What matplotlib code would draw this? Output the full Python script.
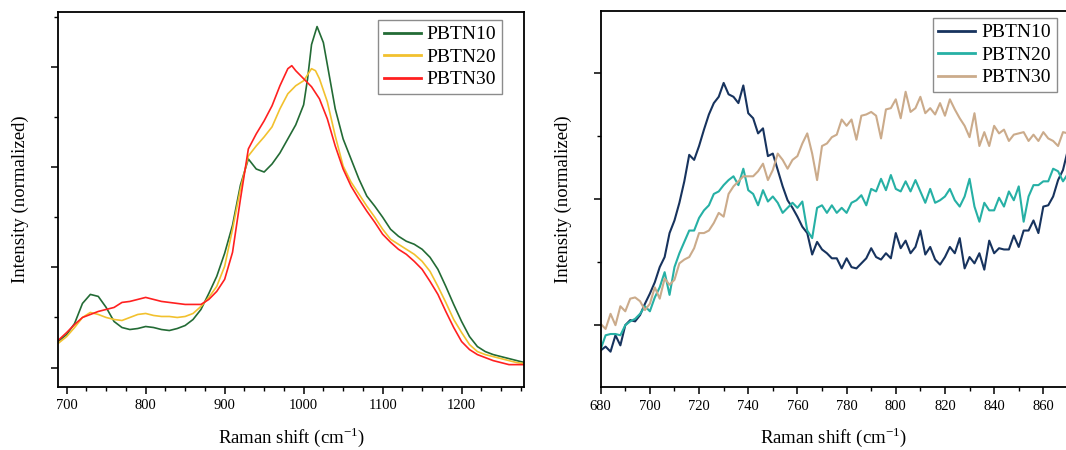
import matplotlib.pyplot as plt
from matplotlib.ticker import MultipleLocator, NullFormatter

# ---- data: full spectra (left panel) ----
labels = ["PBTN10", "PBTN20", "PBTN30"]

full_x10 = [689, 700, 710, 720, 730, 740, 750, 760, 770, 780, 790, 800, 810, 820, 830, 840,
            850, 860, 870, 880, 890, 900, 910, 920, 930, 940, 950, 960, 970, 980, 990, 1000,
            1005, 1010, 1017, 1025, 1030, 1040, 1050, 1060, 1070, 1080, 1090, 1100, 1110,
            1120, 1130, 1140, 1150, 1160, 1170, 1180, 1190, 1200, 1210, 1220, 1230, 1240,
            1250, 1260, 1270, 1280]
full_y10 = [0.13, 0.165, 0.22, 0.32, 0.365, 0.355, 0.30, 0.23, 0.20, 0.19, 0.195, 0.205, 0.20,
            0.19, 0.185, 0.195, 0.21, 0.24, 0.29, 0.37, 0.455, 0.57, 0.71, 0.91, 1.04, 0.99,
            0.975, 1.015, 1.07, 1.14, 1.21, 1.31, 1.44, 1.61, 1.70, 1.62, 1.51, 1.29, 1.14,
            1.04, 0.94, 0.855, 0.805, 0.75, 0.69, 0.655, 0.63, 0.615, 0.59, 0.55, 0.49, 0.405,
            0.315, 0.23, 0.155, 0.105, 0.08, 0.065, 0.055, 0.045, 0.035, 0.025]

full_x20 = [689, 700, 710, 720, 730, 740, 750, 760, 770, 780, 790, 800, 810, 820, 830, 840,
            850, 860, 870, 880, 890, 900, 910, 920, 930, 940, 950, 960, 970, 980, 990, 1000,
            1010, 1015, 1020, 1030, 1040, 1050, 1060, 1070, 1080, 1090, 1100, 1110, 1120,
            1130, 1140, 1150, 1160, 1170, 1180, 1190, 1200, 1210, 1220, 1230, 1240, 1250,
            1260, 1270, 1280]
full_y20 = [0.12, 0.155, 0.20, 0.25, 0.275, 0.265, 0.25, 0.24, 0.235, 0.25, 0.265, 0.27, 0.26,
            0.255, 0.255, 0.25, 0.255, 0.27, 0.305, 0.35, 0.405, 0.505, 0.69, 0.89, 1.055,
            1.105, 1.15, 1.20, 1.29, 1.365, 1.405, 1.43, 1.49, 1.48, 1.44, 1.325, 1.155, 1.005,
            0.925, 0.865, 0.805, 0.75, 0.69, 0.64, 0.615, 0.59, 0.565, 0.53, 0.48, 0.405,
            0.325, 0.24, 0.175, 0.115, 0.08, 0.065, 0.055, 0.045, 0.035, 0.025, 0.02]

full_x30 = [689, 700, 710, 720, 730, 740, 750, 760, 770, 780, 790, 800, 810, 820, 830, 840,
            850, 860, 870, 880, 890, 900, 910, 920, 930, 940, 950, 960, 970, 980, 985, 990,
            1000, 1010, 1020, 1030, 1040, 1050, 1060, 1070, 1080, 1090, 1100, 1110, 1120,
            1130, 1140, 1150, 1160, 1170, 1180, 1190, 1200, 1210, 1220, 1230, 1240, 1250,
            1260, 1270, 1280]
full_y30 = [0.135, 0.175, 0.215, 0.25, 0.265, 0.28, 0.29, 0.30, 0.325, 0.33, 0.34, 0.35, 0.34,
            0.33, 0.325, 0.32, 0.315, 0.315, 0.315, 0.34, 0.38, 0.44, 0.575, 0.84, 1.09, 1.165,
            1.23, 1.305, 1.405, 1.49, 1.505, 1.48, 1.44, 1.40, 1.34, 1.24, 1.105, 0.99, 0.905,
            0.84, 0.78, 0.725, 0.665, 0.625, 0.59, 0.565, 0.53, 0.49, 0.43, 0.365, 0.28, 0.20,
            0.13, 0.09, 0.065, 0.05, 0.035, 0.025, 0.015, 0.015, 0.015]

# ---- data: zoomed region 680-872 cm-1 (right panel) ----
zoom_x = list(range(680, 874, 2))
zoom_y10 = [-0.20, -0.17, -0.21, -0.08, -0.16, 0.00, 0.04, 0.03, 0.08, 0.17,
            0.25, 0.34, 0.46, 0.54, 0.73, 0.83, 0.97, 1.14, 1.35, 1.31,
            1.42, 1.55, 1.67, 1.76, 1.81, 1.92, 1.83, 1.81, 1.76, 1.90,
            1.68, 1.64, 1.52, 1.56, 1.34, 1.36, 1.23, 1.10, 0.99, 0.93,
            0.86, 0.78, 0.73, 0.56, 0.66, 0.60, 0.57, 0.53, 0.53, 0.45,
            0.53, 0.46, 0.45, 0.49, 0.53, 0.61, 0.54, 0.52, 0.57, 0.53,
            0.73, 0.61, 0.67, 0.57, 0.62, 0.75, 0.56, 0.62, 0.52, 0.48,
            0.54, 0.62, 0.57, 0.69, 0.45, 0.54, 0.49, 0.57, 0.44, 0.67,
            0.57, 0.61, 0.60, 0.60, 0.71, 0.62, 0.75, 0.75, 0.83, 0.73,
            0.94, 0.95, 1.02, 1.15, 1.23, 1.39, 1.45]
zoom_y20 = [-0.19, -0.08, -0.07, -0.07, -0.08, 0.00, 0.03, 0.05, 0.09, 0.15,
            0.11, 0.22, 0.30, 0.42, 0.24, 0.46, 0.57, 0.66, 0.75, 0.75,
            0.85, 0.91, 0.95, 1.04, 1.06, 1.11, 1.15, 1.18, 1.11, 1.24,
            1.07, 1.04, 0.95, 1.07, 0.98, 1.02, 0.97, 0.89, 0.93, 0.97,
            0.93, 0.98, 0.75, 0.69, 0.93, 0.95, 0.89, 0.95, 0.89, 0.93,
            0.89, 0.97, 0.99, 1.03, 0.95, 1.08, 1.06, 1.16, 1.07, 1.19,
            1.08, 1.06, 1.14, 1.06, 1.15, 1.06, 0.97, 1.08, 0.97, 0.99,
            1.02, 1.08, 0.99, 0.94, 1.02, 1.16, 0.94, 0.82, 0.97, 0.91,
            0.91, 1.01, 0.94, 1.06, 0.99, 1.10, 0.82, 1.02, 1.11, 1.11,
            1.14, 1.14, 1.24, 1.22, 1.14, 1.20, 1.18]
zoom_y30 = [0.01, -0.03, 0.09, 0.00, 0.15, 0.11, 0.21, 0.22, 0.19, 0.12,
            0.17, 0.30, 0.21, 0.37, 0.32, 0.36, 0.49, 0.52, 0.54, 0.61,
            0.73, 0.73, 0.75, 0.81, 0.89, 0.86, 1.04, 1.10, 1.14, 1.18,
            1.18, 1.18, 1.22, 1.28, 1.15, 1.23, 1.36, 1.31, 1.24, 1.31,
            1.34, 1.44, 1.52, 1.36, 1.15, 1.42, 1.44, 1.49, 1.51, 1.63,
            1.58, 1.63, 1.47, 1.66, 1.67, 1.69, 1.66, 1.48, 1.71, 1.72,
            1.79, 1.64, 1.85, 1.69, 1.72, 1.81, 1.68, 1.72, 1.67, 1.76,
            1.66, 1.79, 1.71, 1.64, 1.58, 1.49, 1.68, 1.42, 1.53, 1.42,
            1.58, 1.52, 1.55, 1.46, 1.51, 1.52, 1.53, 1.46, 1.51, 1.46,
            1.53, 1.48, 1.46, 1.42, 1.53, 1.52, 1.49]

full_colors = ["#236b35", "#f2c12e", "#ff2020"]
zoom_colors = ["#17335e", "#26b0a5", "#cbab8b"]

plt.rcParams["font.family"] = ["Liberation Serif", "DejaVu Serif"]
plt.rcParams["mathtext.fontset"] = "custom"
plt.rcParams["mathtext.rm"] = "Liberation Serif"

W, H = 1066, 450
fig = plt.figure(figsize=(W / 100, H / 100), dpi=100)

# axes placed in pixel terms; the right one is cropped at the figure edge like the source
px_per_unit = 2.459
ax1 = fig.add_axes([58.3 / W, 1 - 386.7 / H, (524 - 58.3) / W, (386.7 - 11.7) / H])
ax2 = fig.add_axes([600.7 / W, 1 - 387 / H, (1066 - 600.7) / W, (387 - 11) / H])

for x, y, c, lab in zip([full_x10, full_x20, full_x30], [full_y10, full_y20, full_y30],
                        full_colors, labels):
    ax1.plot(x, y, color=c, lw=1.2, label=lab)

for y, c, lab in zip([zoom_y10, zoom_y20, zoom_y30], zoom_colors, labels):
    ax2.plot(zoom_x, y, color=c, lw=1.5, label=lab)

ax1.set_xlim(689.4, 1279)
ax1.set_ylim(-0.095, 1.774)
ax1.xaxis.set_major_locator(MultipleLocator(100))
ax1.xaxis.set_minor_locator(MultipleLocator(25))
ax1.yaxis.set_major_locator(MultipleLocator(0.5))
ax1.yaxis.set_minor_locator(MultipleLocator(0.25))

ax2.set_xlim(680, 680 + (1066 - 600.7) / px_per_unit)
ax2.set_ylim(-0.49, 2.49)
ax2.spines["right"].set_visible(False)
ax2.xaxis.set_major_locator(MultipleLocator(20))
ax2.xaxis.set_minor_locator(MultipleLocator(10))
ax2.yaxis.set_major_locator(MultipleLocator(1))
ax2.yaxis.set_minor_locator(MultipleLocator(0.5))

xlabel = "Raman shift (cm$^{\\mathregular{-1}}$)"
for ax in (ax1, ax2):
    ax.yaxis.set_major_formatter(NullFormatter())
    ax.tick_params(which="major", direction="out", length=5, width=1.1, labelsize=10.5, pad=4)
    ax.tick_params(which="minor", direction="out", length=3, width=1.0)
    for s in ax.spines.values():
        s.set_linewidth(1.3)
    ax.set_xlabel(xlabel, fontsize=13.5, labelpad=9)
    ax.set_ylabel("Intensity (normalized)", fontsize=13.5, labelpad=12)

leg_kw = dict(loc="upper right", bbox_transform=fig.transFigure, borderaxespad=0,
              fontsize=14, fancybox=False, edgecolor="#8c8c8c", framealpha=1,
              handlelength=1.9, handletextpad=0.3, labelspacing=0.25, borderpad=0.3)
l1 = ax1.legend(bbox_to_anchor=(502 / W, 1 - 20 / H), **leg_kw)
l2 = ax2.legend(bbox_to_anchor=(1056.6 / W, 1 - 18 / H), **leg_kw)
for leg in (l1, l2):
    leg.get_frame().set_linewidth(1.0)
    for line in leg.get_lines():
        line.set_linewidth(2.0)

fig.savefig("out.png", dpi=100)
